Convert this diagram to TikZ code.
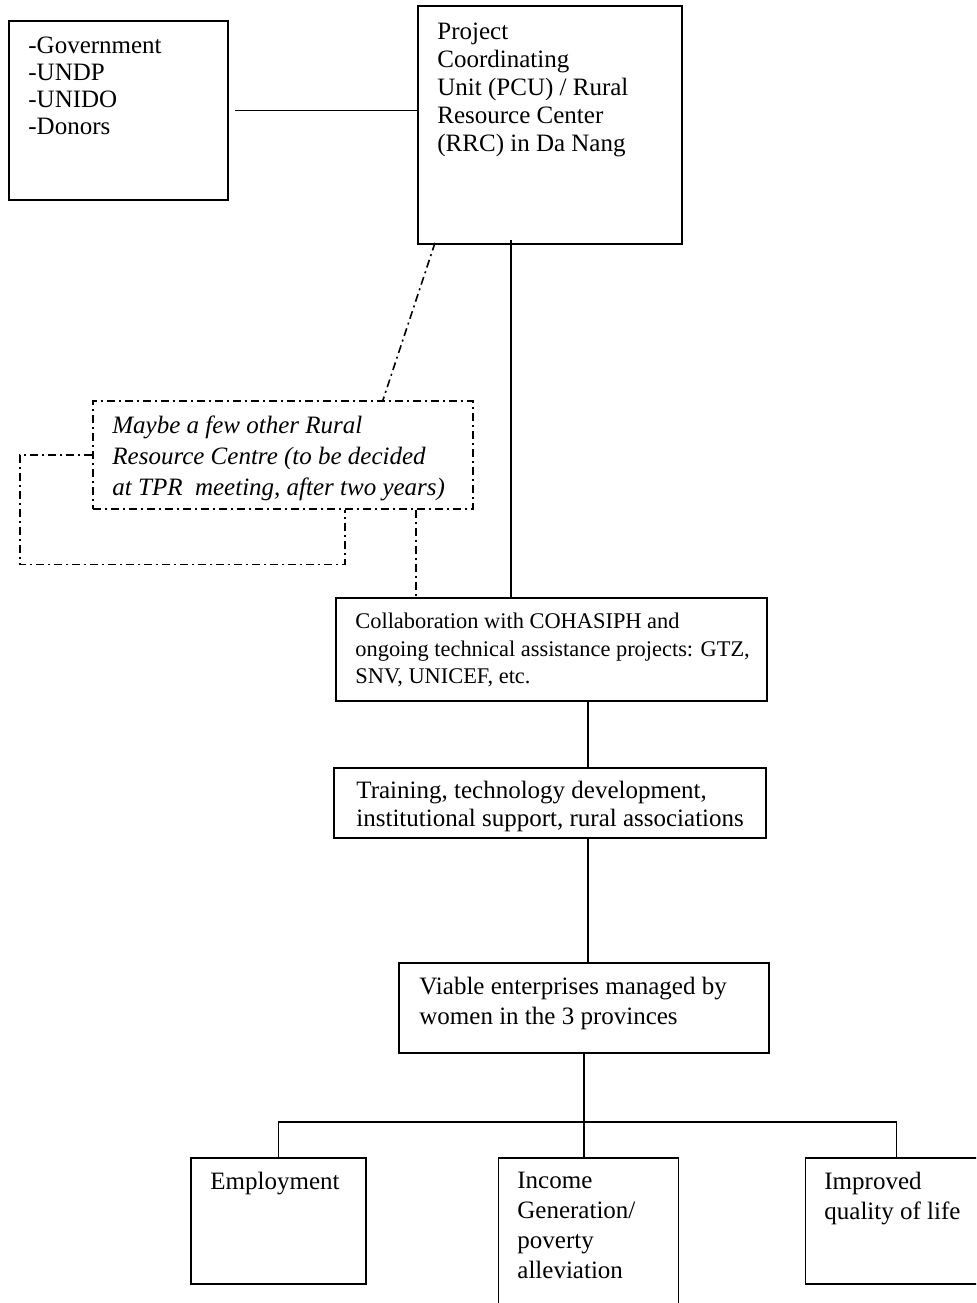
\documentclass[tikz,border=0pt]{standalone}
\usepackage{fontspec}
\setmainfont{Liberation Serif}
\usetikzlibrary{positioning,calc}
\tikzset{
  every node/.style={inner sep=0pt},
  box/.style={draw,line width=0.9pt,anchor=north west},
  txt/.style={anchor=north west,align=left,font=\fontsize{12.5}{13.9}\selectfont},
  gtxt/.style={txt,font=\fontsize{12.5}{13.5}\selectfont},
  wtxt/.style={txt,font=\fontsize{12.5}{14.9}\selectfont},
  ntxt/.style={txt,font=\fontsize{11.2}{13.7}\selectfont},
  itxt/.style={txt,font=\fontsize{12.5}{15.6}\selectfont\itshape},
  link/.style={line width=0.9pt},
  dlink/.style={line width=0.8pt,dash pattern=on 4pt off 2pt on 1pt off 2pt},
}

\begin{document}
\begin{tikzpicture}[x=1pt,y=1pt]
  \clip (0,0) rectangle (488,-651.5);
  % boxes, top left corners
  \node[box,minimum width=109.5,minimum height=89.5] (gov) at (4,-10) {};
  \node[box,minimum width=132,minimum height=119] (pcu) at (208.5,-2.5) {};
  \node[box,dlink,minimum width=190,minimum height=54] (maybe) at (46,-200) {};
  \node[box,minimum width=215.5,minimum height=51.5] (collab) at (167.5,-298.5) {};
  \node[box,minimum width=216,minimum height=35] (train) at (166.5,-383.5) {};
  \node[box,minimum width=185,minimum height=45] (viable) at (199,-481) {};
  \node[box,minimum width=87.5,minimum height=63] (emp) at (95,-578.5) {};
  \node[box,minimum width=90,minimum height=80] (income) at (248.75,-578.5) {};
  \node[box,minimum width=91,minimum height=63] (imp) at (402.25,-578.5) {};

  % texts
  \node[gtxt] (gov-t) at ([shift={(10,-8.5)}]gov.north west)
    {-Government\\-UNDP\\-UNIDO\\-Donors};
  \node[txt] (pcu-t) at ([shift={(10,-9)}]pcu.north west)
    {Project\\Coordinating\\Unit (PCU) / Rural\\Resource Center\\(RRC) in Da Nang};
  \node[itxt] (maybe-t) at ([shift={(10,-7.5)}]maybe.north west)
    {Maybe a few other Rural\\Resource Centre (to be decided\\at TPR\ \ meeting, after two years)};
  \node[ntxt] (collab-t) at ([shift={(10,-8)}]collab.north west)
    {Collaboration with COHASIPH and\\ongoing technical assistance projects: GTZ,\\SNV, UNICEF, etc.};
  \node[txt] (train-t) at ([shift={(11.5,-7)}]train.north west)
    {Training, technology development,\\institutional support, rural associations};
  \node[wtxt] (viable-t) at ([shift={(10.5,-7.5)}]viable.north west)
    {Viable enterprises managed by\\women in the 3 provinces};
  \node[wtxt] (emp-t) at ([shift={(10,-7.5)}]emp.north west) {Employment};
  \node[wtxt] (income-t) at ([shift={(9.75,-7.5)}]income.north west)
    {Income\\Generation/\\poverty\\alleviation};
  \node[wtxt] (imp-t) at ([shift={(9.75,-7.5)}]imp.north west)
    {Improved\\quality of life};

  % connectors
  \coordinate (g1) at ([xshift=3pt]gov.east);
  \draw[link] (g1) -- (g1 -| pcu.west);
  \coordinate (p1) at ([xshift=-19.5pt,yshift=2.5pt]pcu.south);
  \draw[link] (p1) -- (p1 |- collab.north);
  \draw[dlink] ([xshift=9pt,yshift=1pt]pcu.south west) -- ([xshift=145.5pt]maybe.north west);
  \draw[dlink] (maybe.west) -- ++(-36,0) |- ([xshift=126.5pt,yshift=-27.5pt]maybe.south west)
    -- ([xshift=126.5pt]maybe.south west);
  \coordinate (m1) at ([xshift=162pt]maybe.south west);
  \draw[dlink] (m1) -- (m1 |- collab.north);
  \coordinate (c1) at ([xshift=18.25pt]collab.south);
  \draw[link] (c1) -- (c1 |- train.north);
  \coordinate (t1) at ([xshift=19pt]train.south);
  \draw[link] (t1) -- (t1 |- viable.north);
  \draw[link] (viable.south) -- (viable.south |- income.north);
  \draw[link] (emp.north) -- ++(0,17.5) -| (imp.north);
\end{tikzpicture}
\end{document}
